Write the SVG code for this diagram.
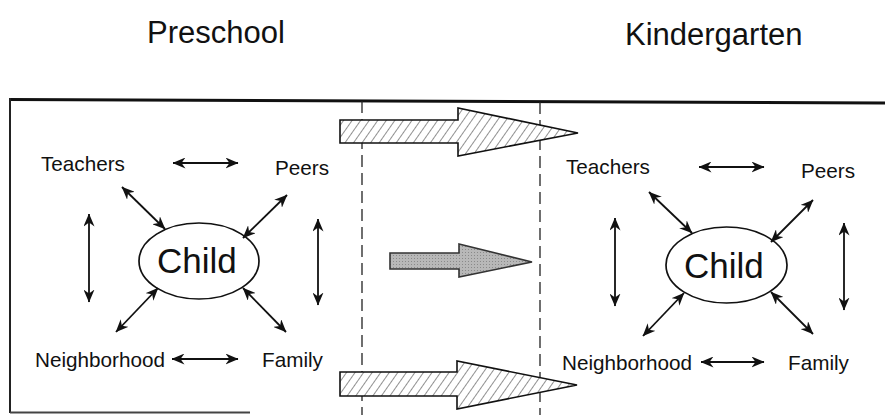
<svg xmlns="http://www.w3.org/2000/svg" width="885" height="415" viewBox="0 0 885 415">
<style>
text{font-family:"Liberation Sans",Arial,sans-serif;fill:#111}
.title{font-size:31px}
.lbl{font-size:20.7px}
.child{font-size:35px}
.conn line{stroke:#111;stroke-width:1.8;marker-start:url(#ah);marker-end:url(#ah)}
.ell{fill:#fff;stroke:#111;stroke-width:1.7}
.dash{stroke:#222;stroke-width:1.3;stroke-dasharray:12 6;fill:none}
.hatch{fill:url(#hp);stroke:#111;stroke-width:1.6;stroke-linejoin:miter}
</style>
<defs>
<marker id="ah" viewBox="0 0 13 11" refX="12.5" refY="5.5" markerWidth="13" markerHeight="11" markerUnits="userSpaceOnUse" orient="auto-start-reverse">
<path d="M0,0 L13,5.5 L0,11 L4,5.5 z" fill="#111"/>
</marker>
<pattern id="hp" patternUnits="userSpaceOnUse" width="7" height="10" patternTransform="rotate(35)">
<rect width="7" height="10" fill="#fff"/>
<line x1="0" y1="0" x2="0" y2="10" stroke="#555" stroke-width="1.3"/>
</pattern>
<pattern id="gp" patternUnits="userSpaceOnUse" width="3" height="3">
<rect width="3" height="3" fill="#b8b8b8"/>
<rect width="1" height="1" fill="#8a8a8a"/>
</pattern>
</defs>
<g id="frame">
<line x1="10" y1="99.5" x2="885" y2="103" stroke="#111" stroke-width="3"/>
<line x1="10" y1="98" x2="10" y2="413" stroke="#222" stroke-width="2"/>
<line x1="10" y1="412.5" x2="250" y2="412.5" stroke="#444" stroke-width="2"/>
<line class="dash" x1="362" y1="101" x2="362" y2="415"/>
<line class="dash" x1="540" y1="102" x2="540" y2="415"/>
</g>
<g id="titles">
<text class="title" x="147" y="43">Preschool</text>
<text class="title" x="625" y="45">Kindergarten</text>
</g>
<g id="transition-arrows">
<path class="hatch" d="M340,120 L458,120 L458,108 L578,133 L458,156 L458,143 L340,143 z"/>
<path class="hatch" d="M340,372 L457,372 L457,361 L577,385 L457,409 L457,396 L340,396 z"/>
<path d="M390,253 L459,253 L459,244 L532,262 L459,277 L459,269 L390,269 z" fill="url(#gp)" stroke="#333" stroke-width="1.6"/>
</g>
<g id="pre-teachers"><text class="lbl" x="41" y="171">Teachers</text></g>
<g id="pre-peers"><text class="lbl" x="275" y="175">Peers</text></g>
<g id="pre-child"><ellipse class="ell" cx="199" cy="261" rx="60" ry="38"/><text class="child" x="157" y="273">Child</text></g>
<g id="pre-neighborhood"><text class="lbl" x="35" y="367">Neighborhood</text></g>
<g id="pre-family"><text class="lbl" x="262" y="367">Family</text></g>
<g id="kg-teachers"><text class="lbl" x="566" y="174">Teachers</text></g>
<g id="kg-peers"><text class="lbl" x="801" y="178">Peers</text></g>
<g id="kg-child"><ellipse class="ell" cx="726.5" cy="265" rx="60.5" ry="38"/><text class="child" x="684" y="278">Child</text></g>
<g id="kg-neighborhood"><text class="lbl" x="562" y="370">Neighborhood</text></g>
<g id="kg-family"><text class="lbl" x="788" y="370">Family</text></g>
<g id="connectors" class="conn">
<line x1="173" y1="163" x2="238" y2="163"/>
<line x1="122" y1="187" x2="165" y2="229"/>
<line x1="287" y1="195" x2="243" y2="238"/>
<line x1="89" y1="214" x2="89" y2="302"/>
<line x1="318" y1="219" x2="318" y2="305"/>
<line x1="158" y1="288" x2="116" y2="332"/>
<line x1="243" y1="288" x2="286" y2="332"/>
<line x1="172" y1="359" x2="238" y2="359"/>
<line x1="699" y1="167" x2="764" y2="167"/>
<line x1="649" y1="192" x2="692" y2="233"/>
<line x1="813" y1="200" x2="771" y2="242"/>
<line x1="615" y1="218" x2="615" y2="306"/>
<line x1="844" y1="223" x2="844" y2="310"/>
<line x1="684" y1="293" x2="643" y2="336"/>
<line x1="771" y1="292" x2="813" y2="334"/>
<line x1="701" y1="362" x2="764" y2="362"/>
</g>
</svg>
